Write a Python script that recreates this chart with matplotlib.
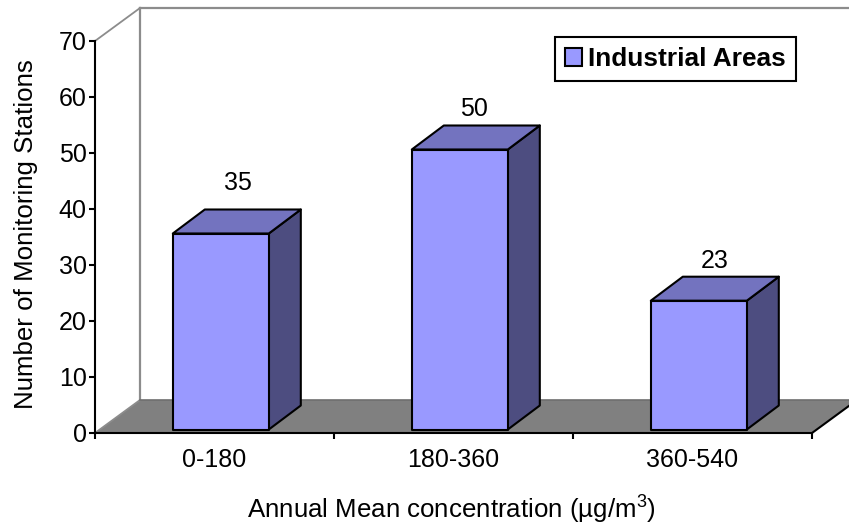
import matplotlib
matplotlib.use('Agg')
import matplotlib.pyplot as plt
from matplotlib.patches import Polygon, Patch

plt.rcParams['font.family'] = ['Liberation Sans', 'DejaVu Sans']
plt.rcParams['mathtext.default'] = 'regular'

categories = ['0-180', '180-360', '360-540']
station_counts = [35, 50, 23]
y_ticks = [0, 10, 20, 30, 40, 50, 60, 70]
series_name = 'Industrial Areas'

FIG_W = 849
FIG_H = 528
AX_LEFT = 95
AX_RIGHT = 812
AX_TOP = 41
AX_BOTTOM = 433

# scale of the axes, pixels per data unit
px_x = (AX_RIGHT - AX_LEFT) / 3.0
px_y = (AX_BOTTOM - AX_TOP) / 70.0

fig = plt.figure(figsize=(FIG_W / 100.0, FIG_H / 100.0), dpi=100, facecolor='w')
ax = fig.add_axes([AX_LEFT / FIG_W, 1 - AX_BOTTOM / FIG_H,
                   (AX_RIGHT - AX_LEFT) / FIG_W, (AX_BOTTOM - AX_TOP) / FIG_H])
ax.set_xlim(0, 3)
ax.set_ylim(0, 70)
ax.patch.set_visible(False)


def add_poly(points, face, edge, lw, z):
    ax.add_patch(Polygon(points, closed=True, facecolor=face, edgecolor=edge,
                         linewidth=lw, zorder=z, clip_on=False, joinstyle='round'))


# chart "box": floor and the grey walls
wall_dx = 45 / px_x
wall_dy = 33 / px_y
add_poly([(0, 0), (3, 0), (3 + wall_dx, wall_dy), (wall_dx, wall_dy)], '#808080', 'none', 0, 1)
grey = '#8c8c8c'
ax.plot([0, wall_dx], [70, 70 + wall_dy], color=grey, lw=1.3, clip_on=False, zorder=1)
ax.plot([0, wall_dx], [0, wall_dy], color=grey, lw=1.3, clip_on=False, zorder=1)
ax.plot([wall_dx, wall_dx], [wall_dy, 70 + wall_dy], color=grey, lw=1.6, clip_on=False, zorder=1)
ax.plot([wall_dx, 3 + wall_dx], [70 + wall_dy, 70 + wall_dy], color=grey, lw=1.6, clip_on=False, zorder=1)
ax.plot([wall_dx, 3 + wall_dx], [wall_dy, wall_dy], color='#6e6e6e', lw=1.2, clip_on=False, zorder=1)
ax.plot([3, 3 + wall_dx], [0, wall_dy], color='k', lw=1.5, clip_on=False, zorder=2)

# 3d bars
bar_w = 96 / px_x
bar_dx = 32 / px_x
bar_dy = 24 / px_y
bar_shift = 6.3 / px_x
bar_base = 3.5 / px_y
label_gap = [27, 16, 16]
label_nudge = [0, -3, -2]
for i, val in enumerate(station_counts):
    x0 = i + 0.5 + bar_shift - bar_w / 2
    x1 = x0 + bar_w
    y0 = bar_base
    y1 = bar_base + val
    add_poly([(x1, y0), (x1 + bar_dx, y0 + bar_dy), (x1 + bar_dx, y1 + bar_dy), (x1, y1)],
             '#4d4d80', 'k', 1.5, 3)
    add_poly([(x0, y1), (x1, y1), (x1 + bar_dx, y1 + bar_dy), (x0 + bar_dx, y1 + bar_dy)],
             '#7373bf', 'k', 1.5, 3)
    add_poly([(x0, y0), (x1, y0), (x1, y1), (x0, y1)], '#9999ff', 'k', 1.5, 4)
    ax.annotate(str(val), (x0 + bar_w / 2 + bar_dx / 2 + 1.5 / px_x, y1 + bar_dy),
                xytext=(label_nudge[i] * 0.72, label_gap[i] * 0.72), textcoords='offset points',
                ha='center', va='center', fontsize=18, zorder=6)

for side in ['top', 'right']:
    ax.spines[side].set_visible(False)
for side in ['left', 'bottom']:
    ax.spines[side].set_linewidth(1.5)
    ax.spines[side].set_zorder(5)

ax.set_yticks(y_ticks)
ax.set_xticks([0, 1, 2, 3])
ax.set_xticks([0.5, 1.5, 2.5], labels=categories, minor=True)
ax.set_xticklabels([])
ax.tick_params(axis='x', which='major', direction='out', length=4.5, width=1.5)
ax.tick_params(axis='x', which='minor', length=0, labelsize=18, pad=11)
ax.tick_params(axis='y', direction='out', length=4, width=1.5, labelsize=18, pad=2)

fig.text(451 / FIG_W, 1 - 510 / FIG_H, 'Annual Mean concentration (µg/m$^{3}$)',
         ha='center', va='center', fontsize=18.6)
fig.text(26 / FIG_W, 1 - 234 / FIG_H, 'Number of Monitoring Stations', rotation=90,
         ha='center', va='center', fontsize=18.6)

handle = Patch(facecolor='#9999ff', edgecolor='k', linewidth=1.5)
leg = ax.legend([handle], [series_name], loc='upper left',
                bbox_to_anchor=(555 / FIG_W, 1 - 37 / FIG_H), bbox_transform=fig.transFigure,
                prop={'family': 'Liberation Sans', 'weight': 'bold', 'size': 18.9},
                fancybox=False, framealpha=1, edgecolor='k', borderpad=0.38,
                handlelength=0.65, handleheight=0.65, handletextpad=0.22, borderaxespad=0)
leg.get_frame().set_linewidth(1.5)
leg.set_zorder(7)

fig.savefig('out.png', dpi=100, facecolor='w')
